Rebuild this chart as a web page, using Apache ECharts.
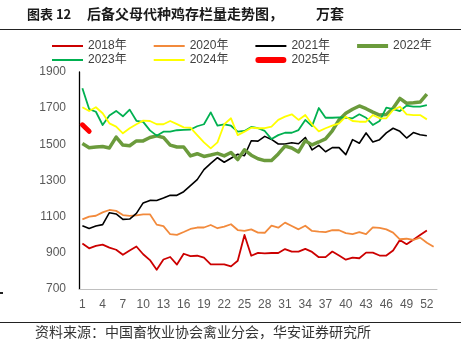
<!DOCTYPE html>
<html>
<head>
<meta charset="utf-8">
<script src="https://cdn.jsdelivr.net/npm/echarts@6/dist/echarts.min.js"></script>
<style>
  html, body { margin: 0; padding: 0; background: #fff; }
  #chart { width: 469px; height: 354px; }
</style>
</head>
<body>
<div id="chart"></div>
<script>
  // 周次 (2020年有53周)
  var weeks = ['1','2','3','4','5','6','7','8','9','10','11','12','13','14','15','16','17','18','19','20',
    '21','22','23','24','25','26','27','28','29','30','31','32','33','34','35','36','37','38','39','40',
    '41','42','43','44','45','46','47','48','49','50','51','52','53']

  // 后备父母代种鸡存栏量，万套
  var y2018 = [952, 925, 938, 945, 929, 917, 889, 913, 935, 892, 860, 806, 863, 877, 835, 895, 882, 884, 873, 836,
    836, 836, 825, 856, 999, 884, 900, 897, 899, 899, 921, 907, 907, 922, 905, 876, 876, 907, 885, 862,
    874, 870, 901, 901, 885, 885, 913, 971, 948, 973, 999, 1024]
  var y2020 = [1085, 1100, 1105, 1124, 1137, 1132, 1109, 1104, 1107, 1113, 1113, 1056, 1048, 1003, 999, 1015, 1032, 1040, 1040, 1054,
    1036, 1045, 1058, 1026, 1021, 1030, 1012, 1011, 1050, 1039, 1067, 1048, 1030, 1050, 1021, 1017, 1014, 1025, 1025, 1009,
    1004, 1014, 1004, 1041, 1038, 1030, 1012, 975, 978, 971, 984, 956, 934]
  var y2021 = [1050, 1035, 1048, 1056, 1122, 1115, 1085, 1087, 1118, 1176, 1190, 1189, 1203, 1218, 1218, 1238, 1272, 1305, 1360, 1395,
    1426, 1401, 1423, 1445, 1437, 1520, 1518, 1544, 1527, 1502, 1502, 1509, 1503, 1538, 1469, 1494, 1459, 1482, 1482, 1443,
    1526, 1506, 1563, 1513, 1526, 1563, 1589, 1572, 1535, 1565, 1553, 1547]
  var y2022 = [1504, 1481, 1485, 1488, 1480, 1540, 1496, 1492, 1519, 1519, 1538, 1547, 1538, 1496, 1485, 1485, 1436, 1448, 1433, 1441,
    1450, 1436, 1455, 1416, 1470, 1440, 1420, 1410, 1410, 1447, 1490, 1480, 1458, 1520, 1497, 1513, 1530, 1575, 1635, 1672,
    1694, 1712, 1697, 1678, 1662, 1665, 1699, 1754, 1727, 1730, 1734, 1778]
  var y2023 = [1810, 1695, 1680, 1607, 1660, 1685, 1655, 1692, 1630, 1624, 1577, 1548, 1570, 1570, 1578, 1580, 1582, 1600, 1611, 1677,
    1603, 1611, 1603, 1570, 1574, 1596, 1589, 1574, 1529, 1551, 1564, 1564, 1579, 1635, 1601, 1701, 1647, 1647, 1649, 1647,
    1644, 1666, 1647, 1607, 1629, 1703, 1695, 1684, 1714, 1709, 1709, 1717]
  var y2024 = [1705, 1684, 1705, 1672, 1616, 1598, 1561, 1589, 1611, 1631, 1629, 1611, 1611, 1629, 1612, 1594, 1592, 1551, 1511, 1478,
    1511, 1611, 1644, 1551, 1570, 1592, 1589, 1589, 1598, 1635, 1653, 1666, 1635, 1662, 1611, 1572, 1589, 1603, 1616, 1653,
    1629, 1625, 1625, 1662, 1644, 1644, 1690, 1708, 1666, 1662, 1662, 1638]
  var y2025 = [1608, 1572]

  var yTicks = { min: 700, max: 1900, interval: 200 }

  var font = '"Liberation Sans", Arial, "Noto Sans CJK SC", sans-serif'
  var cjk = '"Noto Sans CJK SC", sans-serif'

  var chart = echarts.init(document.getElementById('chart'), null, { renderer: 'canvas' })

  function line(name, data, color, width, cap) {
    return {
      name: name,
      type: 'line',
      data: data,
      symbol: 'none',
      smooth: false,
      animation: false,
      lineStyle: { color: color, width: width, cap: cap || 'butt', join: 'round' },
      itemStyle: { color: color }
    }
  }

  // 图例图标：细线、粗线、圆头粗线
  var thin = 'path://M0,0H31V2H0Z'
  var thick = 'path://M0,0H31V4H0Z'
  var fat = 'path://M3,0H28A3,3 0 0 1 28,6H3A3,3 0 0 1 3,0Z'

  var legendText = { color: '#404040', fontSize: 12, fontFamily: font }

  var option = {
    backgroundColor: '#fff',
    animation: false,
    legend: [
      {
        data: [
          { name: '2018年', icon: thin },
          { name: '2020年', icon: thin },
          { name: '2021年', icon: thin },
          { name: '2022年', icon: thick }
        ],
        left: 52, top: 40, padding: 0,
        itemWidth: 31, itemHeight: 12, itemGap: 27,
        textStyle: legendText
      },
      {
        data: [
          { name: '2023年', icon: thin },
          { name: '2024年', icon: thin },
          { name: '2025年', icon: fat }
        ],
        left: 52, top: 54, padding: 0,
        itemWidth: 31, itemHeight: 12, itemGap: 27,
        textStyle: legendText
      }
    ],
    grid: { left: 79, right: 32, top: 72, bottom: 65, containLabel: false },
    xAxis: {
      type: 'category',
      data: weeks,
      boundaryGap: true,
      axisLine: { lineStyle: { color: '#bfbfbf', width: 1 } },
      axisTick: { show: false },
      axisLabel: { interval: 2, color: '#595959', fontSize: 12, fontFamily: font, margin: 10 },
      splitLine: { show: false }
    },
    yAxis: {
      type: 'value',
      min: yTicks.min,
      max: yTicks.max,
      interval: yTicks.interval,
      axisLine: { show: true, lineStyle: { color: '#000', width: 1.3 } },
      axisTick: { show: false },
      axisLabel: {
        color: '#595959', fontSize: 12, fontFamily: font, margin: 13,
        formatter: function(v) { return String(v) }
      },
      splitLine: { show: false }
    },
    series: [
      line('2018年', y2018, '#cc0000', 1.8),
      line('2020年', y2020, '#f28a3c', 1.8),
      line('2021年', y2021, '#000000', 1.6),
      line('2022年', y2022, '#6b9b3c', 3.5),
      line('2023年', y2023, '#00b050', 1.8),
      line('2024年', y2024, '#ffff00', 1.8),
      line('2025年', y2025, '#ff0000', 5, 'round')
    ],
    graphic: [
      // 标题
      { type: 'text', left: 27, top: 8, style: { text: '图表 12', font: 'bold 13px ' + cjk, fill: '#1a1a1a' } },
      { type: 'text', left: 87, top: 7, style: { text: '后备父母代种鸡存栏量走势图，', font: 'bold 14px ' + cjk, fill: '#1a1a1a' } },
      { type: 'text', left: 316, top: 7, style: { text: '万套', font: 'bold 14px ' + cjk, fill: '#1a1a1a' } },
      { type: 'line', shape: { x1: 0, y1: 29.5, x2: 461, y2: 29.5 }, style: { stroke: '#222', lineWidth: 1 } },
      // 左侧小标记
      { type: 'rect', shape: { x: 0, y: 292, width: 3, height: 2 }, style: { fill: '#222' } },
      // 资料来源
      { type: 'line', shape: { x1: 0, y1: 322.5, x2: 461, y2: 322.5 }, style: { stroke: '#222', lineWidth: 1 } },
      { type: 'text', left: 35, top: 325, style: { text: '资料来源：中国畜牧业协会禽业分会，华安证券研究所', font: '14px ' + cjk, fill: '#333' } }
    ]
  }

  chart.setOption(option)
</script>
</body>
</html>
